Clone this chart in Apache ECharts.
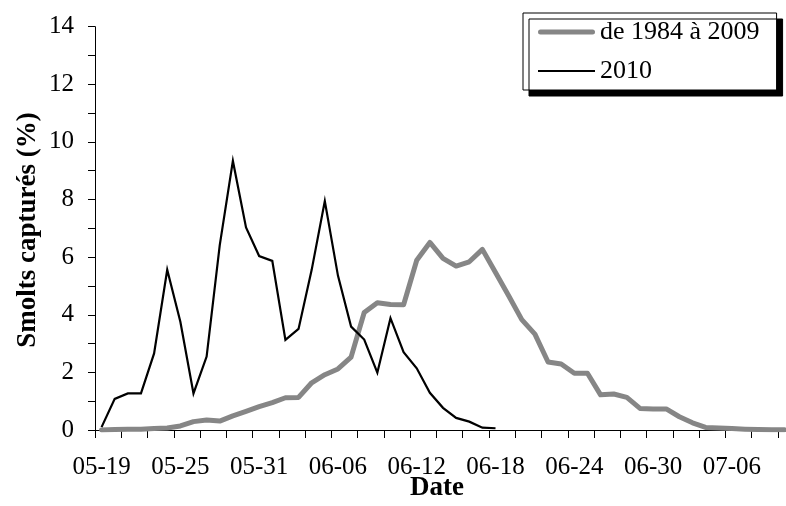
<!DOCTYPE html>
<html>
<head>
<meta charset="utf-8">
<script src="https://cdn.jsdelivr.net/npm/echarts@6/dist/echarts.min.js"></script>
<style>
html, body { margin: 0; padding: 0; overflow: hidden; background: #fff; }
#chart { width: 800px; height: 506px; }
</style>
</head>
<body>
<div id="chart"></div>
<script>
const dates = [
  '05-19','05-20','05-21','05-22','05-23','05-24','05-25','05-26','05-27','05-28','05-29','05-30','05-31',
  '06-01','06-02','06-03','06-04','06-05','06-06','06-07','06-08','06-09','06-10','06-11','06-12','06-13',
  '06-14','06-15','06-16','06-17','06-18','06-19','06-20','06-21','06-22','06-23','06-24','06-25','06-26',
  '06-27','06-28','06-29','06-30','07-01','07-02','07-03','07-04','07-05','07-06','07-07','07-08','07-09','07-10'
];
const seriesNames = ['de 1984 à 2009', '2010'];
const values1984to2009 = [
  0.00, 0.02, 0.03, 0.03, 0.05, 0.07, 0.14, 0.29, 0.35, 0.31, 0.49, 0.65, 0.81,
  0.95, 1.12, 1.13, 1.64, 1.92, 2.12, 2.53, 4.08, 4.42, 4.36, 4.35, 5.89, 6.51,
  5.96, 5.69, 5.84, 6.27, 5.47, 4.66, 3.83, 3.33, 2.36, 2.29, 1.97, 1.97, 1.22,
  1.25, 1.13, 0.75, 0.73, 0.73, 0.46, 0.25, 0.09, 0.07, 0.05, 0.03, 0.02, 0.01, 0.01
];
const values2010 = [
  0.10, 1.08, 1.27, 1.27, 2.66, 5.56, 3.76, 1.27, 2.55, 6.42, 9.34, 7.03, 6.04,
  5.87, 3.13, 3.51, 5.56, 7.95, 5.36, 3.59, 3.14, 1.99, 3.88, 2.70, 2.14, 1.29,
  0.77, 0.42, 0.29, 0.08, 0.06
];
const yTickLabels = ['0', '2', '4', '6', '8', '10', '12', '14'];
const yTitle = 'Smolts capturés (%)';
const xTitle = 'Date';

const FONT = "'Liberation Serif', 'Times New Roman', serif";
const GRAY = '#868686';
const chart = echarts.init(document.getElementById('chart'), null, { renderer: 'canvas' });
chart.setOption({
  animation: false,
  backgroundColor: '#fff',
  textStyle: { fontFamily: FONT, color: '#000' },
  grid: { left: 95, top: 26.7, width: 696, height: 403.3, containLabel: false },
  legend: {
    left: 523, top: 13,
    orient: 'vertical',
    padding: [6, 17, 6, 15],
    itemGap: 13,
    itemWidth: 57,
    itemHeight: 14,
    backgroundColor: '#fff',
    borderColor: '#000',
    borderWidth: 1,
    borderRadius: 0,
    shadowColor: '#000',
    shadowBlur: 0,
    shadowOffsetX: 6,
    shadowOffsetY: 6,
    textStyle: { fontFamily: FONT, fontSize: 26, color: '#000' },
    data: [
      { name: seriesNames[0], icon: 'path://M2.5,0 L54.5,0 A2.5,2.5 0 0 1 54.5,5 L2.5,5 A2.5,2.5 0 0 1 2.5,0 Z', itemStyle: { color: GRAY } },
      { name: seriesNames[1], icon: 'path://M0,0 L57,0 L57,2 L0,2 Z', itemStyle: { color: '#000' } }
    ]
  },
  xAxis: {
    type: 'category',
    data: dates,
    boundaryGap: true,
    axisLine: { show: true, lineStyle: { color: '#000', width: 1 } },
    axisTick: { show: true, interval: 1, length: 8, lineStyle: { color: '#000', width: 1 } },
    axisLabel: { interval: 5, fontSize: 25, fontFamily: FONT, color: '#000', margin: 25 },
    splitLine: { show: false }
  },
  yAxis: {
    type: 'value',
    min: 0, max: 14, interval: 1,
    axisLine: { show: true, lineStyle: { color: '#000', width: 1 } },
    axisTick: { show: true, length: 7, lineStyle: { color: '#000', width: 1 } },
    axisLabel: {
      fontSize: 25, fontFamily: FONT, color: '#000', margin: 21,
      formatter: function (v) { return yTickLabels.indexOf(String(v)) >= 0 ? String(v) : ''; }
    },
    splitLine: { show: false }
  },
  graphic: [
    {
      type: 'text', x: 28, y: 230, rotation: Math.PI / 2,
      style: { text: yTitle, font: "bold 27px " + FONT, fill: '#000', align: 'center', verticalAlign: 'middle' }
    },
    {
      type: 'text', x: 437, y: 488,
      style: { text: xTitle, font: "bold 27px " + FONT, fill: '#000', align: 'center', verticalAlign: 'middle' }
    }
  ],
  series: [
    {
      name: seriesNames[0], type: 'line', data: values1984to2009,
      symbol: 'none', smooth: false,
      lineStyle: { color: GRAY, width: 5, cap: 'round', join: 'round' },
      itemStyle: { color: GRAY },
      z: 2
    },
    {
      name: seriesNames[1], type: 'line', data: values2010,
      symbol: 'none', smooth: false,
      lineStyle: { color: '#000', width: 2.2, join: 'miter' },
      itemStyle: { color: '#000' },
      z: 3
    }
  ]
});
</script>
</body>
</html>
